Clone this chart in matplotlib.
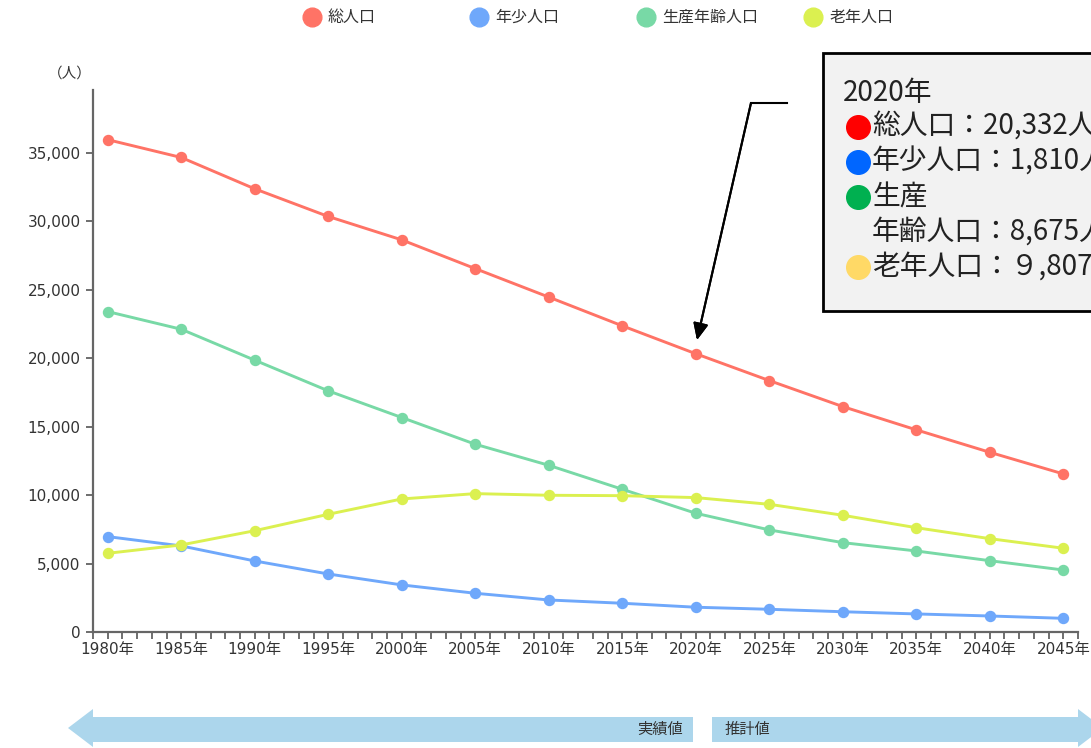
import matplotlib.pyplot as plt
import numpy as np
from matplotlib.lines import Line2D
from matplotlib.patches import Polygon, Rectangle
from matplotlib.ticker import FuncFormatter, MultipleLocator

plt.rcParams['font.family'] = ['DejaVu Sans', 'Noto Sans CJK JP']

years = [1980, 1985, 1990, 1995, 2000, 2005, 2010, 2015, 2020, 2025, 2030, 2035, 2040, 2045]
total = [35970, 34670, 32380, 30360, 28650, 26550, 24470, 22370, 20332, 18370, 16470, 14770, 13130, 11550]
young = [6970, 6290, 5190, 4240, 3440, 2830, 2340, 2100, 1810, 1660, 1480, 1320, 1170, 1000]
working = [23410, 22120, 19860, 17620, 15670, 13720, 12180, 10430, 8675, 7460, 6530, 5920, 5210, 4530]
elderly = [5750, 6360, 7400, 8600, 9720, 10110, 9990, 9960, 9820, 9330, 8530, 7620, 6820, 6120]

series_names = ['総人口', '年少人口', '生産年齢人口', '老年人口']
series_colors = ['#ff7366', '#6fa8fb', '#78d9a6', '#dbf050']

W, H = 1091, 748


def px(x, y):
    # pixel position (from top-left) -> figure fraction
    return x / W, 1 - y / H


fig = plt.figure(figsize=(W / 100, H / 100), dpi=100)
ax = fig.add_axes([93 / W, 1 - 632 / H, (1078 - 93) / W, (632 - 90) / H])

for vals, c in zip([total, young, working, elderly], series_colors):
    ax.plot(years, vals, color=c, lw=2.1, marker='o', markersize=7.2, solid_capstyle='round')

ax.set_xlim(1979, 2046)
ax.set_ylim(0, 39600)
ax.set_xticks(years)
ax.set_xticklabels([f'{y}年' for y in years])
ax.xaxis.set_minor_locator(MultipleLocator(1))
ax.yaxis.set_major_locator(MultipleLocator(5000))
ax.yaxis.set_major_formatter(FuncFormatter(lambda v, p: f'{int(v):,}'))

for s in ['top', 'right']:
    ax.spines[s].set_visible(False)
for s in ['left', 'bottom']:
    ax.spines[s].set_color('#666666')
    ax.spines[s].set_linewidth(1.6)
ax.tick_params(which='both', length=5, width=1.2, color='#555555', labelcolor='#333333', labelsize=11)
ax.tick_params(axis='x', pad=2)
ax.tick_params(axis='y', pad=4)

fig.text(*px(70, 73), '（人）', ha='center', va='center', fontsize=10.5, color='#333333')

# legend on top
leg_x = [312, 479, 646, 813]
for x, name, c in zip(leg_x, series_names, series_colors):
    fig.add_artist(Line2D([px(x, 17)[0]], [px(x, 17)[1]], marker='o', markersize=13.5,
                          color=c, transform=fig.transFigure))
    fig.text(*px(x + 16, 17), name, ha='left', va='center', fontsize=11.5, color='#333333')

# callout box for 2020 (runs past the right edge, as in the original)
fig.add_artist(Rectangle(px(823, 311), (1110 - 823) / W, (311 - 53) / H, transform=fig.transFigure,
                         facecolor='#f2f2f2', edgecolor='black', lw=2))
box_font = dict(fontsize=20, color='#222222', va='center', ha='left', family=['Noto Sans CJK JP'])
fig.text(*px(843, 93), '2020年', **box_font)
box_lines = [
    (127, '#ff0000', '総人口：20,332人'),
    (162, '#0066ff', '年少人口：1,810人'),
    (197, '#00b050', '生産'),
    (232, None, '年齢人口：8,675人'),
    (267, '#ffd966', '老年人口：９,807人'),
]
for y, c, label in box_lines:
    if c is not None:
        fig.add_artist(Line2D([px(858, y)[0]], [px(858, y)[1]], marker='o', markersize=17,
                              color=c, transform=fig.transFigure))
    fig.text(*px(872, y), label, **box_font)

# arrow pointing at 2020 total
fig.add_artist(Line2D([px(787, 103)[0], px(751, 103)[0]], [px(787, 103)[1], px(751, 103)[1]],
                      color='black', lw=1.5, transform=fig.transFigure))
fig.add_artist(plt.annotate('', xy=px(697, 340), xytext=px(751, 103), xycoords='figure fraction',
                            textcoords='figure fraction',
                            arrowprops=dict(arrowstyle='-|>,head_length=1.0,head_width=0.45',
                                            color='black', lw=1.5, shrinkA=0, shrinkB=0)))

# bottom arrows: actual / projected
blue = '#acd6ec'
left_arrow = [(68, 728), (93, 709), (93, 717), (693, 717), (693, 742), (93, 742), (93, 747)]
right_arrow = [(712, 717), (1078, 717), (1078, 709), (1103, 728), (1078, 747), (1078, 742), (712, 742)]
for pts in [left_arrow, right_arrow]:
    fig.add_artist(Polygon([px(x, y) for x, y in pts], closed=True, transform=fig.transFigure,
                           facecolor=blue, edgecolor='none'))
fig.text(*px(683, 729), '実績値', ha='right', va='center', fontsize=11, color='#333333')
fig.text(*px(725, 729), '推計値', ha='left', va='center', fontsize=11, color='#333333')

plt.savefig('out.png', dpi=100)
